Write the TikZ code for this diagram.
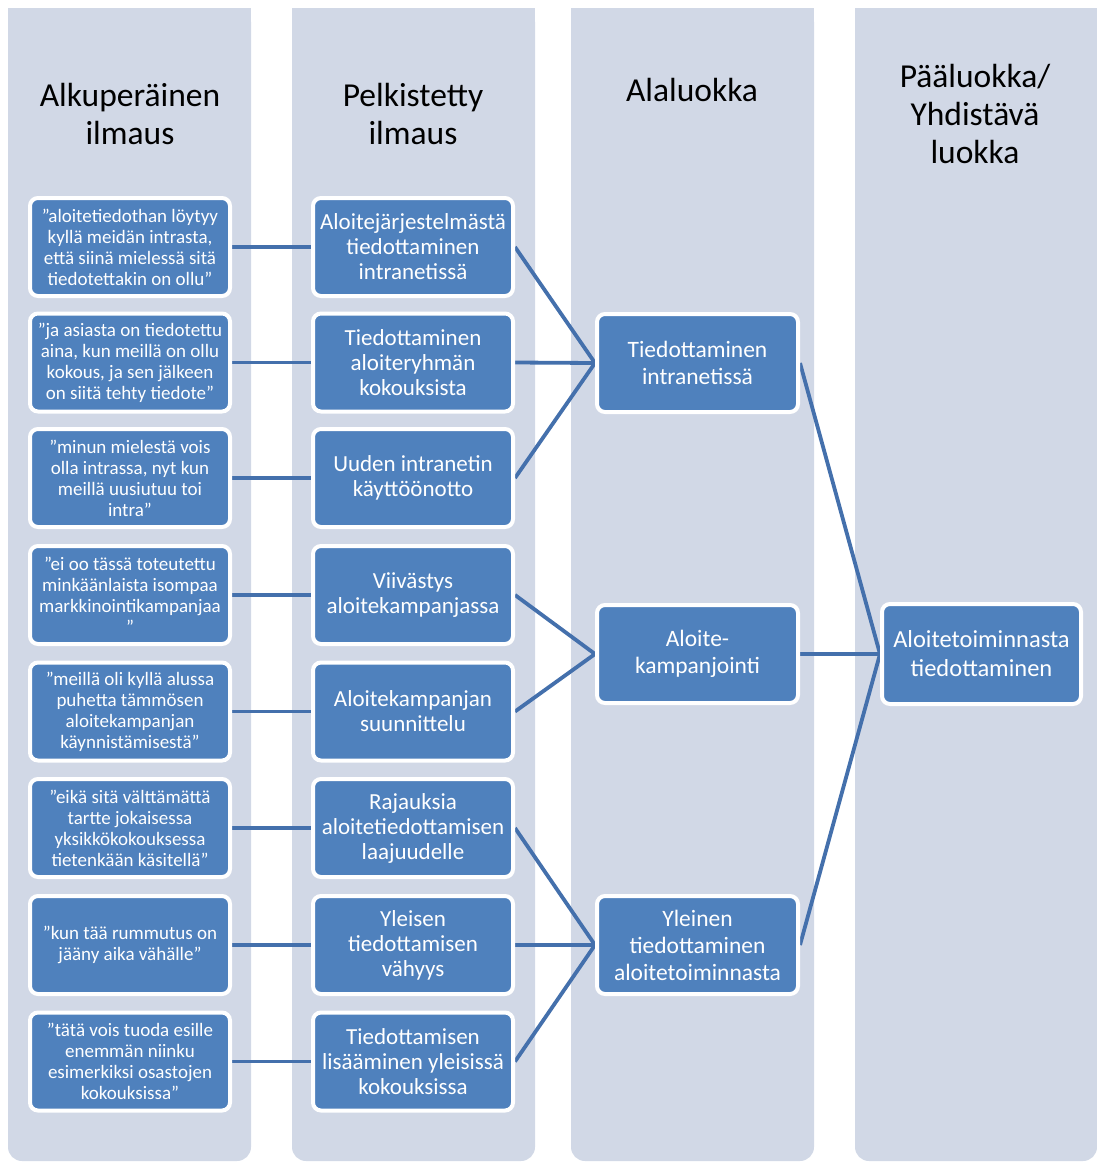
\documentclass[tikz,border=0pt]{standalone}
\usepackage{fontspec}
\setmainfont{Carlito}
\definecolor{laneblue}{HTML}{D1D8E6}
\definecolor{boxblue}{HTML}{4F81BD}
\definecolor{linkblue}{HTML}{4470AC}
\pgfdeclarelayer{lanes}
\pgfdeclarelayer{links}
\pgfsetlayers{lanes,links,main}
\begin{document}
\begin{tikzpicture}[x=1pt,y=-1pt,
  lane/.style={fill=laneblue},
  head/.style={align=center, inner sep=0pt, text=black, font=\fontsize{33.5}{38}\selectfont},
  box/.style={fill=boxblue, draw=white, line width=4pt, rounded corners=8pt,
    text=white, align=center, inner sep=0pt, minimum width=200pt, minimum height=98pt},
  quotebox/.style={box, font=\fontsize{19}{21}\selectfont},
  simplebox/.style={box, font=\fontsize{23}{25}\selectfont},
  subbox/.style={box, minimum width=201pt, font=\fontsize{23.5}{27}\selectfont},
  mainbox/.style={box, minimum width=199pt, minimum height=100pt, font=\fontsize{24.5}{29}\selectfont},
  link/.style={draw=linkblue, line width=3.8pt}
]
\useasboundingbox (0,0) rectangle (1097,1162);

% column backgrounds: square top, rounded bottom
\begin{pgfonlayer}{lanes}
  \foreach \l/\r in {8/251, 292/535, 571/814, 855/1097} {
    \fill[lane, rounded corners=14pt] (\l,8) rectangle (\r,1161);
    \fill[lane] (\l,8) rectangle (\r,60);
  }
\end{pgfonlayer}

% column headings
\node[head] (h1) at (130,114) {Alkuperäinen\\ilmaus};
\node[head] (h2) at (413,114) {Pelkistetty\\ilmaus};
\node[head] (h3) at (692,90) {Alaluokka};
\node[head] (h4) at (975,114) {Pääluokka/\\Yhdistävä\\luokka};

% original expressions
\node[quotebox] (q1) at (130,247)    {”aloitetiedothan löytyy\\kyllä meidän intrasta,\\että siinä mielessä sitä\\tiedotettakin on ollu”};
\node[quotebox] (q2) at (130,362.5)  {”ja asiasta on tiedotettu\\aina, kun meillä on ollu\\kokous, ja sen jälkeen\\on siitä tehty tiedote”};
\node[quotebox] (q3) at (130,478)    {”minun mielestä vois\\olla intrassa, nyt kun\\meillä uusiutuu toi\\intra”};
\node[quotebox] (q4) at (130,595)    {”ei oo tässä toteutettu\\minkäänlaista isompaa\\markkinointikampanjaa\\”};
\node[quotebox] (q5) at (130,711.5)  {”meillä oli kyllä alussa\\puhetta tämmösen\\aloitekampanjan\\käynnistämisestä”};
\node[quotebox] (q6) at (130,828)    {”eikä sitä välttämättä\\tartte jokaisessa\\yksikkökokouksessa\\tietenkään käsitellä”};
\node[quotebox] (q7) at (130,945)    {”kun tää rummutus on\\jääny aika vähälle”};
\node[quotebox] (q8) at (130,1061.5) {”tätä vois tuoda esille\\enemmän niinku\\esimerkiksi osastojen\\kokouksissa”};

% simplified expressions
\node[simplebox] (s1) at (413,247)    {Aloitejärjestelmästä\\tiedottaminen\\intranetissä};
\node[simplebox] (s2) at (413,362.5)  {Tiedottaminen\\aloiteryhmän\\kokouksista};
\node[simplebox] (s3) at (413,478)    {Uuden intranetin\\käyttöönotto};
\node[simplebox] (s4) at (413,595)    {Viivästys\\aloitekampanjassa};
\node[simplebox] (s5) at (413,711.5)  {Aloitekampanjan\\suunnittelu};
\node[simplebox] (s6) at (413,828)    {Rajauksia\\aloitetiedottamisen\\laajuudelle};
\node[simplebox] (s7) at (413,945)    {Yleisen\\tiedottamisen\\vähyys};
\node[simplebox] (s8) at (413,1061.5) {Tiedottamisen\\lisääminen yleisissä\\kokouksissa};

% subcategories
\node[subbox] (c1) at (697.5,363) {Tiedottaminen\\intranetissä};
\node[subbox] (c2) at (697.5,654) {Aloite-\\kampanjointi};
\node[subbox] (c3) at (697.5,945) {Yleinen\\tiedottaminen\\aloitetoiminnasta};

% main category
\node[mainbox] (m) at (981.5,654) {Aloitetoiminnasta\\tiedottaminen};

% connectors
\begin{pgfonlayer}{links}
  \foreach \i in {1,...,8} \draw[link] (q\i.east) -- (s\i.west);
  \foreach \i in {1,2,3} \draw[link] (s\i.east) -- (c1.west);
  \foreach \i in {4,5} \draw[link] (s\i.east) -- (c2.west);
  \foreach \i in {6,7,8} \draw[link] (s\i.east) -- (c3.west);
  \foreach \i in {1,2,3} \draw[link] (c\i.east) -- (m.west);
\end{pgfonlayer}
\end{tikzpicture}
\end{document}
